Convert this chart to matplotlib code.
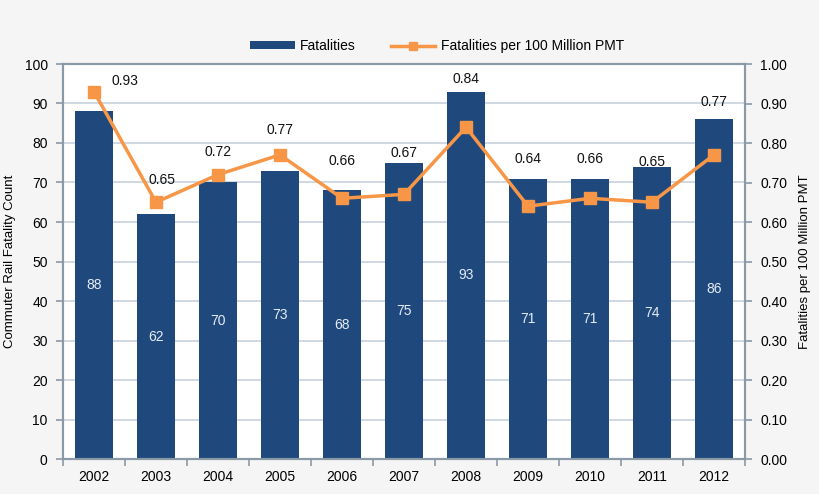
import matplotlib
matplotlib.use("Agg")
import matplotlib.pyplot as plt
import numpy as np

years = ["2002", "2003", "2004", "2005", "2006", "2007", "2008", "2009", "2010", "2011", "2012"]
fatalities = [88, 62, 70, 73, 68, 75, 93, 71, 71, 74, 86]
rate = [0.93, 0.65, 0.72, 0.77, 0.66, 0.67, 0.84, 0.64, 0.66, 0.65, 0.77]
rate_labels = ["0.93", "0.65", "0.72", "0.77", "0.66", "0.67", "0.84", "0.64", "0.66", "0.65", "0.77"]

# label placement offsets (points) relative to each rate point
lab_dx = [22, 4, 0, 0, 0, 0, 0, 0, 0, 0, 0]
lab_dy = [8, 16, 16, 18, 27, 30, 35, 34, 28, 29, 38]

plt.rcParams['font.family'] = ['Liberation Sans', 'DejaVu Sans']

fig = plt.figure(figsize=(8.2, 4.94), dpi=100, facecolor='#f5f5f5')
ax = fig.add_axes([63/820, 1-459/494, (745-63)/820, (459-64)/494])
ax.set_facecolor('white')

x = np.arange(len(years))
bar_color = '#1F497D'
line_color = '#F79646'
spine_color = '#8a99a6'

bars = ax.bar(x, fatalities, width=0.62, color=bar_color, zorder=2, label='Fatalities')
for xi, v in zip(x, fatalities):
    ax.text(xi, v/2, str(v), ha='center', va='center', color='#e4ecf5', fontsize=10, zorder=3)

ax.set_xlim(-0.5, len(years)-0.5)
ax.set_ylim(0, 100)
ax.set_yticks(np.arange(0, 101, 10))
ax.grid(axis='y', color='#c7d1dc', linewidth=1.2, zorder=0)
ax.set_axisbelow(True)
ax.set_xticks(x)
ax.set_xticklabels(years)
ax.set_xticks(np.arange(-0.5, len(years), 1.0), minor=True)
ax.tick_params(axis='x', which='major', length=0, pad=8, labelsize=10)
ax.tick_params(axis='x', which='minor', length=5, color=spine_color, width=1.2)
ax.tick_params(axis='y', length=5, color=spine_color, width=1.2, labelsize=10, pad=6)
for s in ax.spines.values():
    s.set_color(spine_color)
    s.set_linewidth(1.5)
ax.set_ylabel('Commuter Rail Fatality Count', fontsize=9.5, labelpad=6)

ax2 = ax.twinx()
ax2.set_ylim(0, 1.0)
ax2.set_yticks(np.arange(0, 1.01, 0.1))
ax2.set_yticklabels([f"{v:.2f}" for v in np.arange(0, 1.01, 0.1)])
ax2.tick_params(axis='y', length=5, color=spine_color, width=1.2, labelsize=10, pad=6)
for s in ax2.spines.values():
    s.set_color(spine_color)
    s.set_linewidth(1.5)
line, = ax2.plot(x, rate, color=line_color, linewidth=2.5, marker='s', markersize=9,
                 label='Fatalities per 100 Million PMT', zorder=4)
for xi, v, lab, dx, dy in zip(x, rate, rate_labels, lab_dx, lab_dy):
    ax2.annotate(lab, (xi, v), xytext=(dx, dy), textcoords='offset points',
                 ha='center', va='center', fontsize=10, color='#111111')
ax2.set_ylabel('Fatalities per 100 Million PMT', fontsize=9.5, labelpad=8)

fig.legend(handles=[bars, line], labels=['Fatalities', 'Fatalities per 100 Million PMT'],
           loc='center', bbox_to_anchor=(437/820, 1-46/494), ncol=2, frameon=False,
           fontsize=10, handlelength=3.2, columnspacing=2.5, handletextpad=0.4,
           markerscale=0.7, handleheight=0.5)

fig.savefig('out.png', dpi=100, facecolor=fig.get_facecolor())
